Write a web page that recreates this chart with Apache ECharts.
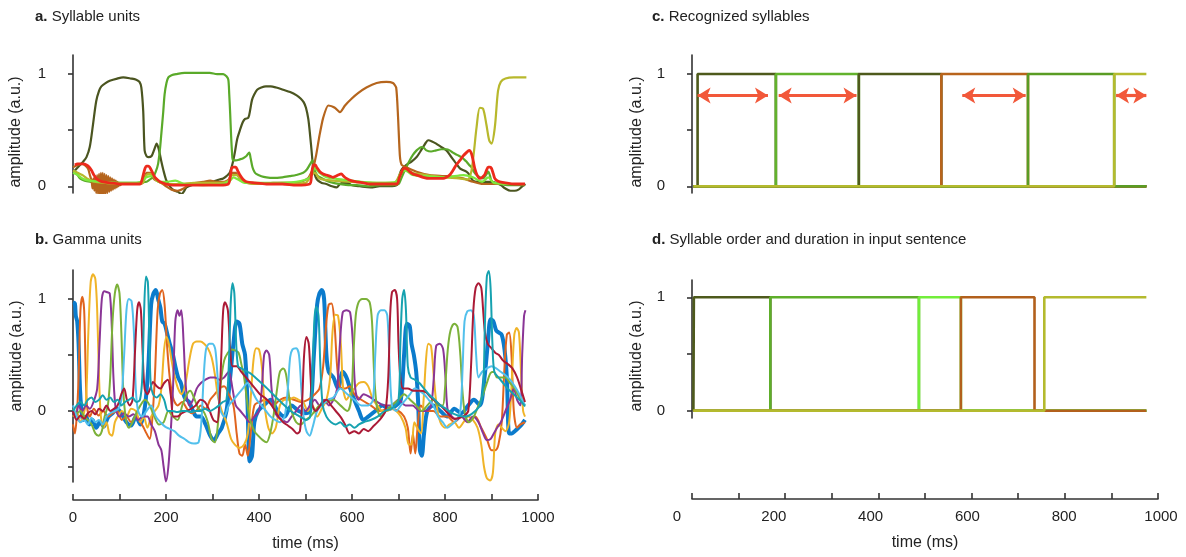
<!DOCTYPE html>
<html><head><meta charset="utf-8">
<script src="https://cdn.jsdelivr.net/npm/echarts@6/dist/echarts.min.js"></script>
<style>html,body{margin:0;padding:0;background:#fff}#c{width:1186px;height:557px}</style>
</head><body><div id="c"></div>
<script>
// ---------- tick labels ----------
const timeLabels = [0, 200, 400, 600, 800, 1000];
const ampLabels = [0, 1];
const ampTicks = [0, 0.5, 1];
const gammaTicks = [-0.5, 0, 0.5, 1];

// ---------- panel a : syllable units [time ms, amplitude] ----------
const sylDark = [[4,0.14],[15,0.19],[22,0.22],[29,0.26],[36,0.35],[43,0.55],[50,0.76],[56,0.85],[61,0.89],[70,0.92],[79,0.94],[95,0.96],[108,0.97],[125,0.96],[136,0.95],[143,0.93],[147,0.88],[151,0.67],[154,0.32],[158,0.27],[162,0.26],[169,0.27],[175,0.33],[180,0.38],[185,0.32],[190,0.22],[194,0.15],[200,0.06],[205,0.02],[212,-0.02],[219,-0.04],[226,-0.05],[233,-0.07],[238,-0.05],[244,-0.01],[255,0.01],[265,0.02],[285,0.03],[301,0.04],[315,0.06],[323,0.07],[330,0.09],[337,0.12],[343,0.2],[348,0.3],[353,0.42],[359,0.5],[365,0.57],[370,0.6],[377,0.61],[381,0.68],[385,0.77],[390,0.82],[396,0.86],[405,0.88],[415,0.89],[425,0.89],[437,0.88],[452,0.86],[467,0.84],[481,0.81],[490,0.78],[496,0.75],[501,0.7],[506,0.6],[510,0.45],[513,0.32],[517,0.15],[522,0.08],[527,0.05],[535,0.03],[545,0.02],[557,0.0],[567,-0.01],[574,0.02],[582,0.03],[590,0.03],[600,0.01],[617,0.0],[640,-0.01],[660,0.0],[680,0.0],[696,0.01],[702,0.1],[707,0.15],[717,0.19],[728,0.22],[739,0.26],[747,0.31],[753,0.35],[759,0.39],[764,0.41],[772,0.4],[781,0.38],[792,0.35],[803,0.32],[812,0.27],[821,0.22],[832,0.16],[846,0.13],[853,0.1],[860,0.05],[870,0.04],[882,0.04],[896,0.04],[910,0.03],[920,0.01],[930,-0.02],[941,-0.04],[950,-0.04],[958,-0.03],[966,0.0],[973,0.02]];
const sylGreen = [[4,0.14],[10,0.1],[15,0.07],[25,0.05],[36,0.04],[55,0.03],[79,0.03],[110,0.03],[136,0.03],[150,0.035],[158,0.04],[165,0.06],[172,0.08],[178,0.13],[183,0.2],[187,0.33],[190,0.47],[194,0.66],[197,0.82],[201,0.92],[205,0.97],[212,0.99],[222,1.0],[240,1.01],[258,1.01],[276,1.01],[294,1.01],[310,1.0],[323,1.0],[330,0.98],[334,0.95],[336,0.82],[338,0.65],[340,0.45],[342,0.3],[344,0.23],[350,0.23],[359,0.24],[366,0.25],[373,0.27],[379,0.3],[382,0.25],[386,0.17],[390,0.13],[394,0.11],[405,0.09],[416,0.08],[430,0.075],[450,0.08],[466,0.09],[480,0.1],[495,0.12],[503,0.15],[509,0.19],[515,0.23],[518,0.18],[520,0.14],[525,0.1],[531,0.08],[545,0.05],[560,0.03],[574,0.02],[592,0.01],[610,0.01],[635,0.0],[660,0.01],[685,0.01],[700,0.02],[705,0.06],[710,0.11],[717,0.17],[724,0.23],[731,0.28],[739,0.32],[745,0.34],[750,0.35],[755,0.34],[760,0.32],[770,0.31],[781,0.32],[792,0.33],[803,0.33],[810,0.32],[817,0.3],[826,0.28],[835,0.26],[841,0.24],[846,0.22],[852,0.19],[857,0.17],[862,0.13],[868,0.1],[875,0.08],[882,0.07],[888,0.1],[893,0.13],[897,0.09],[900,0.05],[908,0.03],[918,0.02],[935,0.01],[950,0.01],[972,0.01]];
const sylOrange = [[0,0.17],[10,0.19],[20,0.2],[28,0.18],[33,0.15],[37,0.09],[40,0.05],[42,-0.02],[44,0.07],[46,-0.04],[48,0.09],[50,-0.06],[52,0.1],[54,-0.07],[56,0.11],[58,-0.08],[60,0.12],[62,-0.08],[64,0.12],[66,-0.08],[68,0.11],[70,-0.07],[72,0.1],[74,-0.06],[76,0.09],[78,-0.05],[80,0.08],[82,-0.04],[84,0.07],[86,-0.03],[88,0.06],[90,-0.02],[92,0.05],[94,-0.01],[96,0.04],[98,0.0],[100,0.03],[102,0.01],[104,0.02],[120,0.02],[140,0.02],[150,0.03],[158,0.12],[166,0.12],[175,0.06],[190,0.03],[200,0.0],[212,-0.03],[225,-0.04],[238,-0.02],[250,0.02],[265,0.03],[280,0.04],[295,0.05],[310,0.04],[325,0.04],[335,0.06],[342,0.12],[350,0.12],[360,0.06],[375,0.03],[400,0.02],[430,0.03],[460,0.03],[490,0.04],[505,0.07],[512,0.12],[517,0.17],[523,0.28],[530,0.45],[538,0.61],[549,0.72],[563,0.7],[574,0.66],[585,0.72],[599,0.78],[613,0.83],[631,0.88],[653,0.92],[674,0.93],[688,0.92],[695,0.88],[699,0.62],[703,0.27],[707,0.19],[717,0.17],[739,0.13],[767,0.1],[803,0.09],[839,0.07],[860,0.04],[882,0.02],[918,0.02],[945,0.02],[972,0.02]];
const sylYellow = [[0,0.14],[10,0.12],[20,0.1],[30,0.07],[45,0.04],[70,0.03],[100,0.02],[130,0.02],[150,0.03],[158,0.1],[168,0.11],[180,0.05],[200,0.02],[230,0.02],[260,0.03],[290,0.03],[320,0.03],[335,0.05],[342,0.1],[352,0.1],[365,0.04],[400,0.02],[450,0.02],[500,0.03],[512,0.1],[520,0.12],[530,0.07],[560,0.05],[600,0.04],[650,0.03],[690,0.03],[705,0.12],[715,0.15],[730,0.12],[760,0.1],[800,0.08],[830,0.07],[848,0.06],[856,0.12],[862,0.3],[868,0.53],[875,0.7],[882,0.69],[889,0.55],[895,0.41],[900,0.38],[907,0.52],[914,0.85],[920,0.93],[930,0.96],[948,0.97],[975,0.97]];
const sylBright = [[0,0.12],[10,0.1],[20,0.07],[35,0.05],[60,0.04],[100,0.03],[140,0.03],[158,0.08],[170,0.09],[185,0.04],[200,0.04],[220,0.05],[240,0.02],[280,0.01],[320,0.02],[338,0.05],[345,0.08],[355,0.06],[370,0.03],[420,0.03],[480,0.04],[510,0.08],[520,0.16],[530,0.12],[545,0.08],[580,0.06],[620,0.04],[660,0.03],[695,0.04],[705,0.12],[715,0.14],[730,0.1],[760,0.09],[800,0.08],[840,0.1],[860,0.08],[880,0.04],[893,0.08],[905,0.03],[940,0.02],[972,0.02]];
const sylRed = [[4,0.19],[10,0.2],[15,0.2],[22,0.2],[29,0.19],[35,0.17],[40,0.14],[45,0.1],[50,0.07],[57,0.05],[65,0.04],[80,0.03],[101,0.02],[125,0.02],[144,0.02],[148,0.05],[151,0.1],[155,0.16],[158,0.18],[162,0.18],[165,0.17],[170,0.13],[176,0.08],[181,0.06],[187,0.04],[200,0.02],[215,0.01],[240,0.01],[258,0.01],[290,0.01],[316,0.01],[334,0.02],[338,0.08],[341,0.16],[345,0.17],[350,0.17],[354,0.14],[359,0.1],[366,0.06],[373,0.04],[390,0.03],[416,0.02],[450,0.02],[481,0.01],[509,0.02],[513,0.1],[517,0.19],[521,0.19],[524,0.17],[531,0.13],[538,0.11],[545,0.1],[552,0.09],[559,0.08],[565,0.09],[570,0.1],[577,0.11],[582,0.09],[588,0.07],[598,0.05],[609,0.04],[625,0.03],[638,0.02],[670,0.02],[696,0.02],[702,0.08],[707,0.13],[711,0.16],[714,0.16],[719,0.15],[724,0.13],[731,0.11],[739,0.1],[753,0.08],[767,0.07],[782,0.07],[796,0.07],[803,0.08],[810,0.1],[817,0.14],[824,0.19],[832,0.23],[839,0.27],[846,0.3],[852,0.32],[857,0.29],[861,0.22],[864,0.16],[869,0.1],[875,0.07],[880,0.08],[885,0.1],[889,0.14],[893,0.17],[897,0.17],[900,0.16],[904,0.11],[907,0.07],[912,0.05],[918,0.04],[930,0.03],[950,0.02],[972,0.02]];

// ---------- panel b : gamma units ----------
const gBlue = [[0,0.97],[4,0.96],[6,0.85],[9,0.8],[12,0.6],[15,0.2],[18,0.02],[22,-0.08],[28,-0.05],[35,-0.12],[42,-0.08],[50,-0.15],[58,-0.1],[66,-0.14],[75,-0.06],[85,-0.02],[95,0.02],[105,-0.03],[115,-0.1],[125,-0.13],[135,-0.05],[145,-0.12],[155,0.05],[162,0.4],[168,0.95],[173,1.05],[178,1.08],[183,1.0],[188,0.92],[192,0.8],[197,0.78],[202,0.7],[208,0.6],[214,0.52],[220,0.4],[226,0.3],[232,0.25],[240,0.12],[250,0.08],[258,0.0],[266,-0.05],[275,-0.05],[285,-0.12],[295,-0.22],[303,-0.26],[312,-0.2],[320,-0.15],[330,0.0],[338,0.3],[345,0.6],[352,0.8],[358,0.78],[364,0.6],[370,0.5],[375,0.1],[380,-0.45],[385,-0.4],[390,-0.1],[398,0.0],[410,0.05],[425,0.1],[440,0.0],[455,-0.05],[470,0.05],[485,0.0],[500,-0.02],[510,0.0],[518,0.5],[525,0.95],[530,1.05],[535,1.08],[540,1.0],[545,0.5],[550,0.35],[560,0.3],[570,0.2],[580,0.35],[588,0.3],[596,0.2],[605,0.1],[615,0.0],[624,-0.08],[635,-0.05],[650,0.0],[665,0.05],[680,0.02],[695,0.05],[705,0.1],[712,0.5],[718,0.78],[724,0.76],[728,0.6],[733,0.5],[738,0.35],[742,0.1],[746,-0.35],[750,-0.4],[755,-0.2],[762,0.0],[775,0.05],[790,0.0],[805,-0.05],[820,0.02],[835,-0.02],[850,0.05],[862,0.1],[875,0.05],[885,0.3],[892,0.6],[898,0.82],[904,0.8],[910,0.72],[916,0.7],[922,0.68],[928,0.55],[933,0.3],[938,-0.2],[944,-0.2],[950,-0.18],[958,-0.15],[965,-0.12],[972,-0.08]];
const gOrange = [[0,-0.12],[4,-0.2],[8,-0.05],[12,0.3],[16,0.9],[20,1.02],[24,0.9],[27,0.4],[30,0.05],[36,-0.05],[45,0.02],[55,-0.04],[65,0.0],[75,-0.05],[85,-0.02],[95,0.0],[105,-0.08],[115,-0.05],[125,-0.1],[135,-0.05],[145,-0.1],[152,-0.15],[158,-0.2],[165,-0.25],[170,-0.1],[176,0.3],[182,0.9],[187,1.05],[192,1.08],[197,0.95],[202,0.6],[208,0.3],[215,0.12],[225,0.05],[235,0.08],[245,0.02],[255,-0.02],[265,0.0],[275,0.05],[285,0.02],[295,0.1],[305,0.15],[315,0.2],[325,0.22],[335,0.15],[345,0.05],[352,-0.2],[358,-0.38],[364,-0.4],[370,-0.3],[376,-0.4],[382,-0.2],[390,0.05],[400,0.08],[415,0.1],[430,0.05],[445,0.1],[460,0.12],[475,0.1],[490,0.08],[505,0.1],[520,0.15],[530,0.2],[538,0.4],[545,0.8],[550,0.95],[556,0.96],[562,0.8],[568,0.4],[574,0.22],[585,0.2],[595,0.22],[605,0.15],[620,0.1],[640,0.05],[660,0.0],[680,0.02],[700,0.0],[712,-0.05],[720,-0.15],[726,-0.38],[731,-0.2],[736,-0.38],[741,-0.15],[748,0.05],[760,0.0],[775,0.0],[790,-0.05],[805,-0.05],[820,-0.1],[835,-0.05],[850,-0.1],[865,-0.05],[878,-0.15],[890,-0.25],[900,-0.35],[908,-0.35],[915,-0.3],[922,-0.1],[928,0.4],[933,0.68],[938,0.7],[943,0.5],[948,0.0],[955,-0.15],[962,-0.12],[972,-0.1]];
const gYellow = [[0,-0.05],[8,0.0],[15,-0.1],[22,-0.05],[28,0.1],[33,0.7],[38,1.15],[43,1.22],[48,1.18],[52,0.9],[56,0.3],[60,-0.05],[66,-0.15],[72,-0.1],[78,-0.2],[84,-0.22],[90,-0.1],[96,-0.05],[105,0.0],[115,-0.05],[125,0.02],[135,0.0],[145,-0.1],[152,-0.05],[160,-0.15],[168,-0.05],[176,0.0],[184,0.05],[190,0.2],[196,0.55],[201,0.66],[206,0.6],[212,0.45],[218,0.32],[226,0.2],[234,0.15],[242,0.25],[250,0.45],[258,0.6],[266,0.62],[274,0.62],[282,0.6],[290,0.56],[298,0.48],[305,0.33],[312,0.12],[320,0.0],[330,-0.1],[340,-0.25],[348,-0.3],[358,-0.33],[368,-0.3],[376,-0.2],[382,0.1],[388,0.45],[394,0.56],[400,0.55],[406,0.4],[412,0.05],[420,-0.15],[428,-0.2],[436,-0.15],[445,0.05],[455,0.1],[465,0.1],[475,0.12],[485,0.1],[495,0.08],[505,0.0],[515,0.05],[525,-0.05],[535,0.02],[545,0.1],[553,0.3],[558,0.7],[564,0.86],[570,0.85],[576,0.6],[581,0.2],[588,0.1],[596,0.15],[605,0.2],[615,0.25],[625,0.26],[635,0.22],[645,0.1],[655,0.05],[665,0.0],[675,0.0],[685,0.02],[695,0.0],[705,-0.05],[715,-0.15],[722,-0.3],[728,-0.3],[734,-0.1],[740,-0.15],[748,-0.2],[754,0.1],[759,0.45],[764,0.6],[770,0.58],[776,0.3],[782,0.05],[790,-0.1],[800,-0.15],[810,-0.12],[820,-0.1],[830,-0.15],[840,-0.1],[850,-0.05],[860,-0.08],[870,-0.15],[878,-0.3],[884,-0.5],[890,-0.6],[897,-0.62],[903,-0.55],[908,-0.2],[915,-0.12],[922,-0.15],[930,-0.18],[938,-0.1],[944,0.3],[949,0.68],[954,0.74],[959,0.7],[964,0.3],[968,0.0],[972,-0.05]];
const gPurple = [[0,0.0],[6,-0.05],[12,0.05],[20,0.0],[28,0.05],[36,0.02],[44,0.08],[52,0.2],[57,0.6],[62,1.0],[67,1.07],[74,1.06],[79,1.05],[83,0.8],[87,0.3],[92,0.02],[100,-0.05],[110,-0.02],[120,-0.05],[130,-0.03],[140,-0.08],[150,-0.05],[160,-0.05],[168,-0.12],[176,-0.18],[184,-0.3],[190,-0.35],[195,-0.5],[200,-0.63],[205,-0.5],[210,-0.2],[215,0.2],[220,0.8],[225,0.9],[229,0.85],[233,0.9],[238,0.6],[243,0.2],[250,0.05],[258,0.1],[266,0.2],[275,0.25],[285,0.28],[295,0.3],[305,0.3],[315,0.28],[325,0.3],[335,0.35],[343,0.2],[350,0.05],[360,0.0],[370,-0.05],[380,-0.1],[390,-0.05],[400,0.0],[406,0.2],[411,0.5],[416,0.54],[422,0.5],[427,0.2],[433,0.0],[440,-0.05],[450,-0.08],[460,-0.1],[470,-0.05],[480,0.0],[490,0.05],[500,0.0],[510,0.05],[520,0.1],[530,0.05],[540,0.1],[550,0.05],[560,0.1],[568,0.2],[574,0.6],[580,0.88],[588,0.9],[596,0.88],[602,0.6],[607,0.2],[614,0.1],[625,0.15],[640,0.12],[655,0.08],[670,0.05],[685,0.05],[700,0.1],[715,0.05],[730,0.05],[745,0.0],[760,0.0],[770,0.05],[776,0.3],[781,0.58],[789,0.6],[796,0.55],[801,0.3],[806,0.0],[815,-0.05],[825,-0.08],[835,-0.05],[848,-0.1],[860,-0.05],[872,-0.1],[882,-0.2],[890,-0.26],[898,-0.25],[905,-0.2],[912,-0.15],[920,-0.1],[930,0.0],[940,0.1],[948,0.2],[955,0.1],[962,0.05],[966,0.5],[970,0.85],[973,0.9]];
const gGreen = [[0,0.02],[8,-0.02],[16,0.0],[24,-0.05],[32,-0.08],[40,-0.12],[48,-0.2],[55,-0.22],[62,-0.18],[68,-0.05],[75,0.05],[80,0.3],[85,0.8],[90,1.05],[95,1.13],[100,1.05],[104,0.7],[108,0.2],[113,-0.05],[120,-0.15],[128,-0.1],[136,-0.02],[145,0.05],[155,0.1],[165,0.05],[175,-0.05],[185,-0.12],[195,-0.1],[205,0.0],[215,-0.05],[225,-0.08],[235,0.05],[245,0.15],[252,0.18],[260,0.12],[270,0.02],[280,0.0],[290,-0.1],[298,-0.25],[305,-0.28],[312,-0.1],[318,0.25],[325,0.45],[333,0.52],[341,0.55],[349,0.54],[356,0.52],[362,0.42],[368,0.3],[374,0.1],[380,-0.07],[390,-0.18],[398,-0.22],[408,-0.26],[416,-0.28],[424,-0.2],[432,-0.02],[439,0.2],[445,0.35],[452,0.38],[458,0.33],[464,0.15],[470,0.0],[480,-0.1],[490,-0.12],[500,-0.08],[510,-0.05],[520,0.0],[530,0.05],[545,0.08],[560,0.1],[575,0.05],[590,0.0],[598,0.1],[603,0.5],[608,0.85],[614,0.97],[622,1.0],[630,1.0],[638,0.97],[643,0.8],[648,0.3],[654,0.02],[662,-0.05],[672,0.0],[685,0.05],[700,0.1],[712,0.15],[725,0.1],[738,0.05],[750,0.0],[762,0.05],[775,0.1],[785,0.05],[795,0.05],[800,0.2],[806,0.55],[812,0.72],[820,0.78],[827,0.75],[833,0.5],[838,0.15],[844,-0.05],[852,-0.1],[862,-0.05],[872,0.05],[882,0.15],[890,0.25],[898,0.34],[905,0.35],[912,0.3],[920,0.3],[930,0.3],[940,0.25],[950,0.2],[960,0.12],[972,0.05]];
const gLightBlue = [[0,0.05],[8,-0.05],[16,-0.1],[24,-0.08],[32,-0.12],[40,-0.06],[48,-0.1],[56,-0.08],[64,-0.12],[72,-0.05],[80,-0.02],[90,0.0],[98,0.02],[104,0.1],[110,0.5],[115,0.9],[120,1.0],[126,0.98],[131,0.7],[135,0.2],[140,0.0],[148,-0.05],[158,0.0],[168,0.05],[178,-0.05],[188,-0.1],[198,-0.14],[208,-0.16],[218,-0.18],[228,-0.22],[240,-0.25],[250,-0.28],[260,-0.29],[270,-0.28],[276,-0.1],[281,0.3],[286,0.55],[293,0.6],[300,0.6],[306,0.55],[311,0.3],[316,0.02],[325,-0.05],[335,0.05],[345,0.1],[355,0.15],[365,0.2],[375,0.25],[385,0.18],[395,0.1],[405,0.05],[415,0.0],[425,-0.05],[435,-0.08],[445,-0.1],[455,-0.05],[462,0.2],[467,0.48],[472,0.55],[480,0.56],[486,0.5],[491,0.2],[496,-0.05],[502,-0.18],[509,-0.22],[515,-0.15],[525,0.0],[535,0.05],[548,0.1],[560,0.12],[575,0.2],[590,0.15],[605,0.1],[620,0.05],[635,0.05],[645,0.1],[650,0.5],[655,0.85],[662,0.9],[670,0.9],[676,0.85],[681,0.4],[686,0.05],[695,0.0],[705,0.05],[715,0.1],[725,0.15],[735,0.2],[745,0.18],[755,0.15],[765,0.1],[775,0.05],[785,-0.05],[795,-0.1],[805,-0.15],[815,-0.12],[825,-0.08],[833,0.0],[838,0.4],[842,0.8],[848,0.89],[856,0.9],[862,0.85],[867,0.5],[872,0.3],[880,0.35],[890,0.38],[900,0.4],[910,0.38],[920,0.35],[930,0.32],[940,0.28],[950,0.22],[960,0.15],[972,0.05]];
const gDarkRed = [[0,0.0],[8,-0.08],[16,-0.04],[24,-0.07],[32,-0.02],[40,0.0],[48,-0.03],[56,0.02],[64,0.0],[72,0.05],[80,0.0],[88,0.02],[96,0.05],[104,0.15],[110,0.2],[116,0.1],[122,0.05],[128,0.1],[133,0.5],[138,0.9],[142,0.97],[146,0.9],[150,0.5],[154,0.2],[160,0.15],[166,0.2],[172,0.26],[180,0.22],[188,0.2],[196,0.25],[204,0.28],[210,0.15],[216,-0.05],[224,-0.05],[234,-0.02],[244,0.0],[254,0.02],[264,0.05],[274,0.1],[284,0.08],[294,0.0],[302,-0.08],[310,-0.1],[315,0.1],[319,0.5],[323,0.9],[327,0.97],[333,0.9],[338,0.55],[343,0.4],[352,0.4],[362,0.35],[372,0.3],[382,0.25],[392,0.2],[402,0.15],[412,0.12],[422,0.08],[432,0.02],[442,-0.05],[452,-0.1],[462,-0.13],[472,-0.16],[482,-0.2],[488,-0.18],[493,0.1],[497,0.5],[502,0.66],[507,0.6],[511,0.3],[515,0.05],[522,0.0],[532,0.05],[545,0.1],[555,0.05],[565,0.0],[575,-0.05],[585,-0.12],[595,-0.2],[605,-0.18],[615,-0.2],[625,-0.16],[635,-0.18],[645,-0.14],[655,-0.1],[665,-0.05],[672,0.0],[678,0.3],[682,0.85],[686,1.06],[692,1.08],[697,1.0],[700,0.6],[704,0.3],[710,0.2],[720,0.2],[732,0.18],[745,0.18],[758,0.17],[770,0.12],[782,0.08],[795,0.03],[808,-0.03],[820,-0.07],[832,-0.06],[842,-0.04],[850,0.0],[856,0.4],[861,0.9],[866,1.1],[872,1.14],[878,1.1],[882,0.9],[886,0.7],[892,0.6],[900,0.56],[908,0.52],[916,0.5],[925,0.45],[935,0.42],[945,0.38],[955,0.3],[963,0.2],[972,0.08]];
const gTeal = [[0,0.0],[8,0.05],[16,0.08],[24,0.05],[32,0.1],[40,0.12],[48,0.08],[56,0.1],[64,0.14],[72,0.1],[80,0.12],[88,0.08],[96,0.1],[104,0.05],[112,0.08],[120,0.1],[128,0.12],[136,0.08],[144,0.1],[149,0.3],[153,0.9],[157,1.2],[161,1.15],[164,0.7],[167,0.25],[172,0.15],[180,0.12],[188,0.15],[196,0.1],[204,0.0],[214,0.0],[224,-0.01],[234,0.0],[244,0.0],[254,-0.01],[264,0.0],[274,0.0],[284,0.02],[294,0.0],[304,0.02],[314,0.05],[322,0.08],[330,0.1],[335,0.4],[339,0.95],[343,1.14],[347,1.05],[351,0.6],[355,0.4],[362,0.38],[370,0.36],[380,0.34],[392,0.3],[405,0.25],[418,0.2],[430,0.15],[442,0.1],[455,0.05],[468,0.0],[480,-0.03],[492,-0.06],[502,-0.08],[510,-0.05],[515,0.3],[519,0.8],[523,0.93],[528,0.85],[532,0.4],[537,0.05],[545,-0.05],[555,-0.1],[565,-0.12],[575,-0.1],[585,-0.14],[595,-0.12],[605,-0.15],[615,-0.12],[625,-0.1],[640,-0.08],[655,-0.05],[670,0.0],[685,0.02],[700,0.1],[704,0.6],[708,1.0],[712,1.08],[716,0.9],[720,0.4],[726,0.3],[735,0.28],[745,0.25],[755,0.2],[765,0.15],[778,0.1],[790,0.05],[802,0.02],[815,-0.02],[828,-0.04],[840,-0.05],[852,-0.04],[865,0.0],[875,0.05],[882,0.2],[886,0.8],[890,1.2],[894,1.25],[898,1.1],[902,0.6],[906,0.35],[915,0.3],[925,0.25],[935,0.2],[945,0.16],[955,0.12],[965,0.08],[972,0.04]];

// ---------- panel c : recognized syllables (ms) ----------
const recognizedStart = [12, 180, 358, 535, 721, 906];
const recognizedEnd   = [180, 358, 535, 721, 906, 975];
const recognizedArrows = [[12, 163], [186, 353], [580, 716], [910, 975]];
const arrowLevel = 0.81;

// ---------- panel d : input sentence syllables (ms) ----------
const inputStart = [4, 168, 487, 577, 756];
const inputEnd   = [168, 487, 577, 735, 975];

const traceStart = 3, traceEnd = 975;

// ---------- styling ----------
const FONT = "'Liberation Sans', Arial, Helvetica, sans-serif";
const AX = '#333';
const TXT = '#222';
const sylColors = {dark:'#4b5520', green:'#5aaa2a', orange:'#b5651d', yellow:'#b8b82c', bright:'#7ee83c', red:'#ec2a1c'};
const gammaColors = ['#0b7bcc','#e0641e','#f0b428','#8a3596','#7cb13a','#52c0ec','#ab1a36','#16a2b0'];
const recColors = ['#4e5a1c','#62b22c','#4e5a1c','#b8641c','#5a9c24','#b4ba2e'];
const inColors  = ['#4e5a1c','#5eae2a','#72ee3a','#b2601c','#b4ba2e'];

function stepTrace(s, e) {
  const pts = [[traceStart,0],[s,0],[s,1],[e,1]];
  if (e < traceEnd) { pts.push([e,0]); pts.push([traceEnd,0]); }
  return pts;
}
function ln(data, color, width, gi, smooth) {
  return {type:'line', data:data, xAxisIndex:gi, yAxisIndex:gi, showSymbol:false, symbol:'none',
    smooth: smooth, lineStyle:{color:color, width:width}, itemStyle:{color:color},
    silent:true, animation:false, emphasis:{disabled:true}};
}

const series = [];
// panel a
series.push(ln(sylDark, sylColors.dark, 2.2, 0, 0.3));
series.push(ln(sylGreen, sylColors.green, 2.2, 0, 0.3));
series.push(ln(sylOrange, sylColors.orange, 2.2, 0, 0.2));
series.push(ln(sylYellow, sylColors.yellow, 2.2, 0, 0.3));
series.push(ln(sylBright, sylColors.bright, 2.2, 0, 0.3));
series.push(ln(sylRed, sylColors.red, 2.8, 0, 0.3));
// panel b
[gBlue,gOrange,gYellow,gPurple,gGreen,gLightBlue,gDarkRed,gTeal].forEach((d,i)=>{
  series.push(ln(d, gammaColors[i], i===0 ? 4 : 2, 1, 0.3));
});
// panel c
recognizedStart.forEach((s,i)=>{
  series.push(ln(stepTrace(s, recognizedEnd[i]), recColors[i], 2.6, 2, false));
});
series.push({type:'line', data:[], xAxisIndex:2, yAxisIndex:2, silent:true, animation:false,
  markLine:{silent:true, animation:false, symbol:['arrow','arrow'], symbolSize:[12,13],
    label:{show:false}, emphasis:{disabled:true},
    lineStyle:{color:'#f2583a', width:3.2, type:'solid'},
    data: recognizedArrows.map(a=>[{coord:[a[0],arrowLevel]},{coord:[a[1],arrowLevel]}])}});
// panel d
inputStart.forEach((s,i)=>{
  series.push(ln(stepTrace(s, inputEnd[i]), inColors[i], 2.6, 3, false));
});

function yAx(gi, min, max, ticks) {
  return {type:'value', gridIndex:gi, min:min, max:max, offset:18,
    axisLine:{show:true, lineStyle:{color:AX, width:1.6}},
    axisTick:{show:true, customValues:ticks, length:5, lineStyle:{color:AX, width:1.6}},
    axisLabel:{show:true, customValues:ampLabels, margin:9, fontSize:15, fontFamily:FONT, color:TXT},
    splitLine:{show:false}};
}
function xAx(gi, withLabels) {
  return {type:'value', gridIndex:gi, min:0, max:1000, interval:100, offset:18,
    axisLine:{show:true, onZero:false, lineStyle:{color:AX, width:1.6}},
    axisTick:{show:true, inside:true, length:6, lineStyle:{color:AX, width:1.6}},
    axisLabel:{show:withLabels, customValues:timeLabels, formatter:v=>(v%200===0?String(v):''), margin:10, fontSize:15, fontFamily:FONT, color:TXT},
    splitLine:{show:false},
    name:'time (ms)', nameLocation:'middle', nameGap:36,
    nameTextStyle:{fontSize:16, fontFamily:FONT, color:TXT}};
}
const xD = xAx(3, false); xD.offset = 81;

const titleStyle = {fontSize:15, fontWeight:'normal', fontFamily:FONT, color:TXT,
  rich:{b:{fontWeight:'bold', fontSize:15, fontFamily:FONT, color:TXT}}};

const option = {
  backgroundColor:'#fff',
  animation:false,
  title:[
    {text:'{b|a.} Syllable units', left:30, top:4, textStyle:titleStyle},
    {text:'{b|b.} Gamma units', left:30, top:227, textStyle:titleStyle},
    {text:'{b|c.} Recognized syllables', left:647, top:4, textStyle:titleStyle},
    {text:'{b|d.} Syllable order and duration in input sentence', left:647, top:227, textStyle:titleStyle}
  ],
  graphic:[
    {type:'text', x:16, y:132, rotation:Math.PI/2, style:{text:'amplitude (a.u.)', font:'16px '+FONT, fill:TXT, align:'center', verticalAlign:'middle'}},
    {type:'text', x:17, y:356, rotation:Math.PI/2, style:{text:'amplitude (a.u.)', font:'16px '+FONT, fill:TXT, align:'center', verticalAlign:'middle'}},
    {type:'text', x:637, y:132, rotation:Math.PI/2, style:{text:'amplitude (a.u.)', font:'16px '+FONT, fill:TXT, align:'center', verticalAlign:'middle'}},
    {type:'text', x:637, y:356, rotation:Math.PI/2, style:{text:'amplitude (a.u.)', font:'16px '+FONT, fill:TXT, align:'center', verticalAlign:'middle'}}
  ],
  grid:[
    {left:73, top:55, width:465, height:138},
    {left:73, top:270, width:465, height:212},
    {left:692, top:55, width:466, height:138},
    {left:692, top:280, width:466, height:138},
    {left:677, top:280, width:484, height:138}
  ],
  xAxis:[
    {type:'value', gridIndex:0, min:0, max:1000, show:false},
    xAx(1, true),
    {type:'value', gridIndex:2, min:0, max:1000, show:false},
    xD,
    {type:'value', gridIndex:4, min:0, max:1000, interval:200, offset:81,
      axisLine:{show:false}, axisTick:{show:false}, splitLine:{show:false},
      axisLabel:{show:true, formatter:v=>String(v), margin:10, fontSize:15, fontFamily:FONT, color:TXT}}
  ],
  yAxis:[
    yAx(0, -0.06, 1.17, ampTicks),
    yAx(1, -0.634, 1.259, gammaTicks),
    yAx(2, -0.06, 1.17, ampTicks),
    yAx(3, -0.064, 1.152, ampTicks),
    {type:'value', gridIndex:4, min:0, max:1, show:false, splitLine:{show:false}}
  ],
  series:series
};
const chart = echarts.init(document.getElementById('c'), null, {renderer:'canvas'});
chart.setOption(option);
</script></body></html>
